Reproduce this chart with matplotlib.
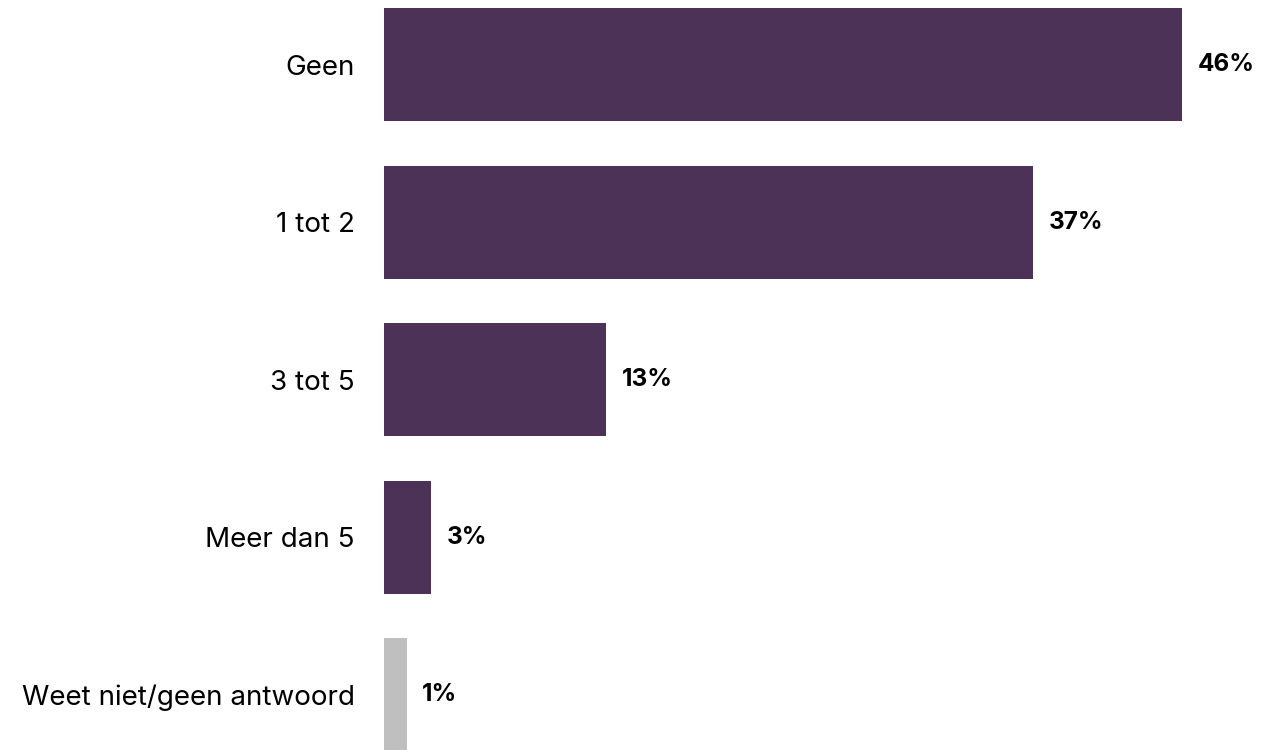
import matplotlib
matplotlib.use("Agg")
import matplotlib.pyplot as plt

# data
categories = ["Geen", "1 tot 2", "3 tot 5", "Meer dan 5", "Weet niet/geen antwoord"]
values = [46.0, 37.4, 12.8, 2.7, 1.3]
colors = ["#4b3256", "#4b3256", "#4b3256", "#4b3256", "#bfbfbf"]

plt.rcParams["font.family"] = ["Inter", "DejaVu Sans"]

fig = plt.figure(figsize=(12.79, 7.5), dpi=100)
ax = fig.add_axes([384 / 1279, 0, 895 / 1279, 1])

ypos = list(range(len(categories)))
ax.barh(ypos, values, height=0.717, color=colors)

for y, v in zip(ypos, values):
    ax.text(v + 0.9, y, f"{round(v)}%", va="center", ha="left",
            fontsize=17.5, fontweight="bold", color="black")

ax.set_yticks(ypos)
ax.set_yticklabels(categories, fontsize=20)
ax.tick_params(axis="y", length=0, pad=21)
ax.set_xticks([])
ax.set_xlim(0, 51.6)
ax.set_ylim(4.352, -0.41)
for s in ax.spines.values():
    s.set_visible(False)

fig.savefig("out.png", dpi=100)
